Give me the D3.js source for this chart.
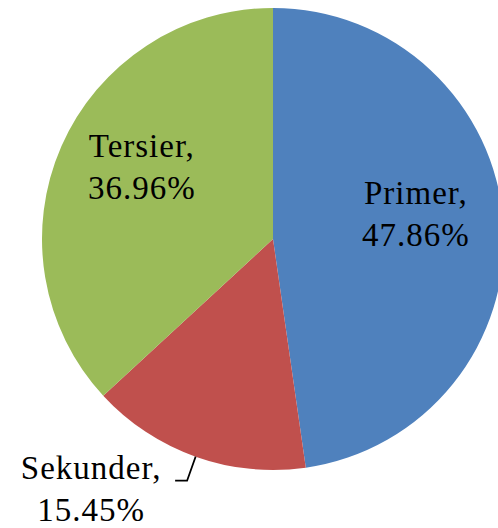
<!DOCTYPE html>
<html>
<head>
<meta charset="utf-8">
<script src="https://cdn.jsdelivr.net/npm/d3@7"></script>
<style>
  html, body { margin: 0; padding: 0; background: #fff; }
  svg text { font-family: "Liberation Serif", "Times New Roman", serif; font-size: 33px; fill: #000; letter-spacing: 1px; }
</style>
</head>
<body>
<script>
// Données du graphique
const categories = ["Primer", "Sekunder", "Tersier"];
const values = [47.86, 15.45, 36.96];
const colors = ["#4F81BD", "#C0504D", "#9BBB59"];

const width = 498, height = 528;
const cx = 273, cy = 239, radius = 231;

const svg = d3.select('body')
    .append('svg')
    .attr('width', width)
    .attr('height', height);

const g = svg.append('g')
    .attr('transform', `translate(${cx}, ${cy})`);

const pie = d3.pie()
    .sort(null)
    .value(d => d.value);

const data = categories.map((c, i) => ({ name: c, value: values[i], color: colors[i] }));
const arcs = pie(data);

const arc = d3.arc()
    .innerRadius(0)
    .outerRadius(radius);

g.selectAll('path')
    .data(arcs)
    .join('path')
    .attr('d', arc)
    .attr('fill', d => d.data.color);

// Étiquettes à l'intérieur (Primer, Tersier)
const labelArc = d3.arc()
    .innerRadius(radius * 0.62)
    .outerRadius(radius * 0.62);

const fmt = d => d.toFixed(2) + '%';

arcs.filter(d => d.data.name !== 'Sekunder').forEach(d => {
    const [x, y] = labelArc.centroid(d);
    const t = g.append('text')
        .attr('text-anchor', 'middle')
        .attr('transform', `translate(${x}, ${y - 23})`);
    t.append('tspan').attr('x', 0).attr('dy', '-0.05em').text(d.data.name + ',');
    t.append('tspan').attr('x', 0).attr('dy', '1.27em').text(fmt(d.data.value));
});

// Étiquette extérieure avec trait de rappel (Sekunder)
const sek = arcs.find(d => d.data.name === 'Sekunder');
const mid = (sek.startAngle + sek.endAngle) / 2;
const p0 = [Math.sin(mid) * radius, -Math.cos(mid) * radius];
const p1 = [Math.sin(mid) * radius * 1.11, -Math.cos(mid) * radius * 1.11];
const p2 = [p1[0] - 12, p1[1]];

g.append('polyline')
    .attr('points', [p0, p1, p2].map(p => p.join(',')).join(' '))
    .attr('fill', 'none')
    .attr('stroke', '#000')
    .attr('stroke-width', 1.7);

const st = g.append('text')
    .attr('text-anchor', 'middle')
    .attr('letter-spacing', '2px')
    .attr('transform', `translate(${p2[0] - 84}, ${p2[1] - 2})`);
st.append('tspan').attr('x', 0).attr('dy', 0).text(sek.data.name + ',');
st.append('tspan').attr('x', 0).attr('dy', '1.27em').text(fmt(sek.data.value));
</script>
</body>
</html>
